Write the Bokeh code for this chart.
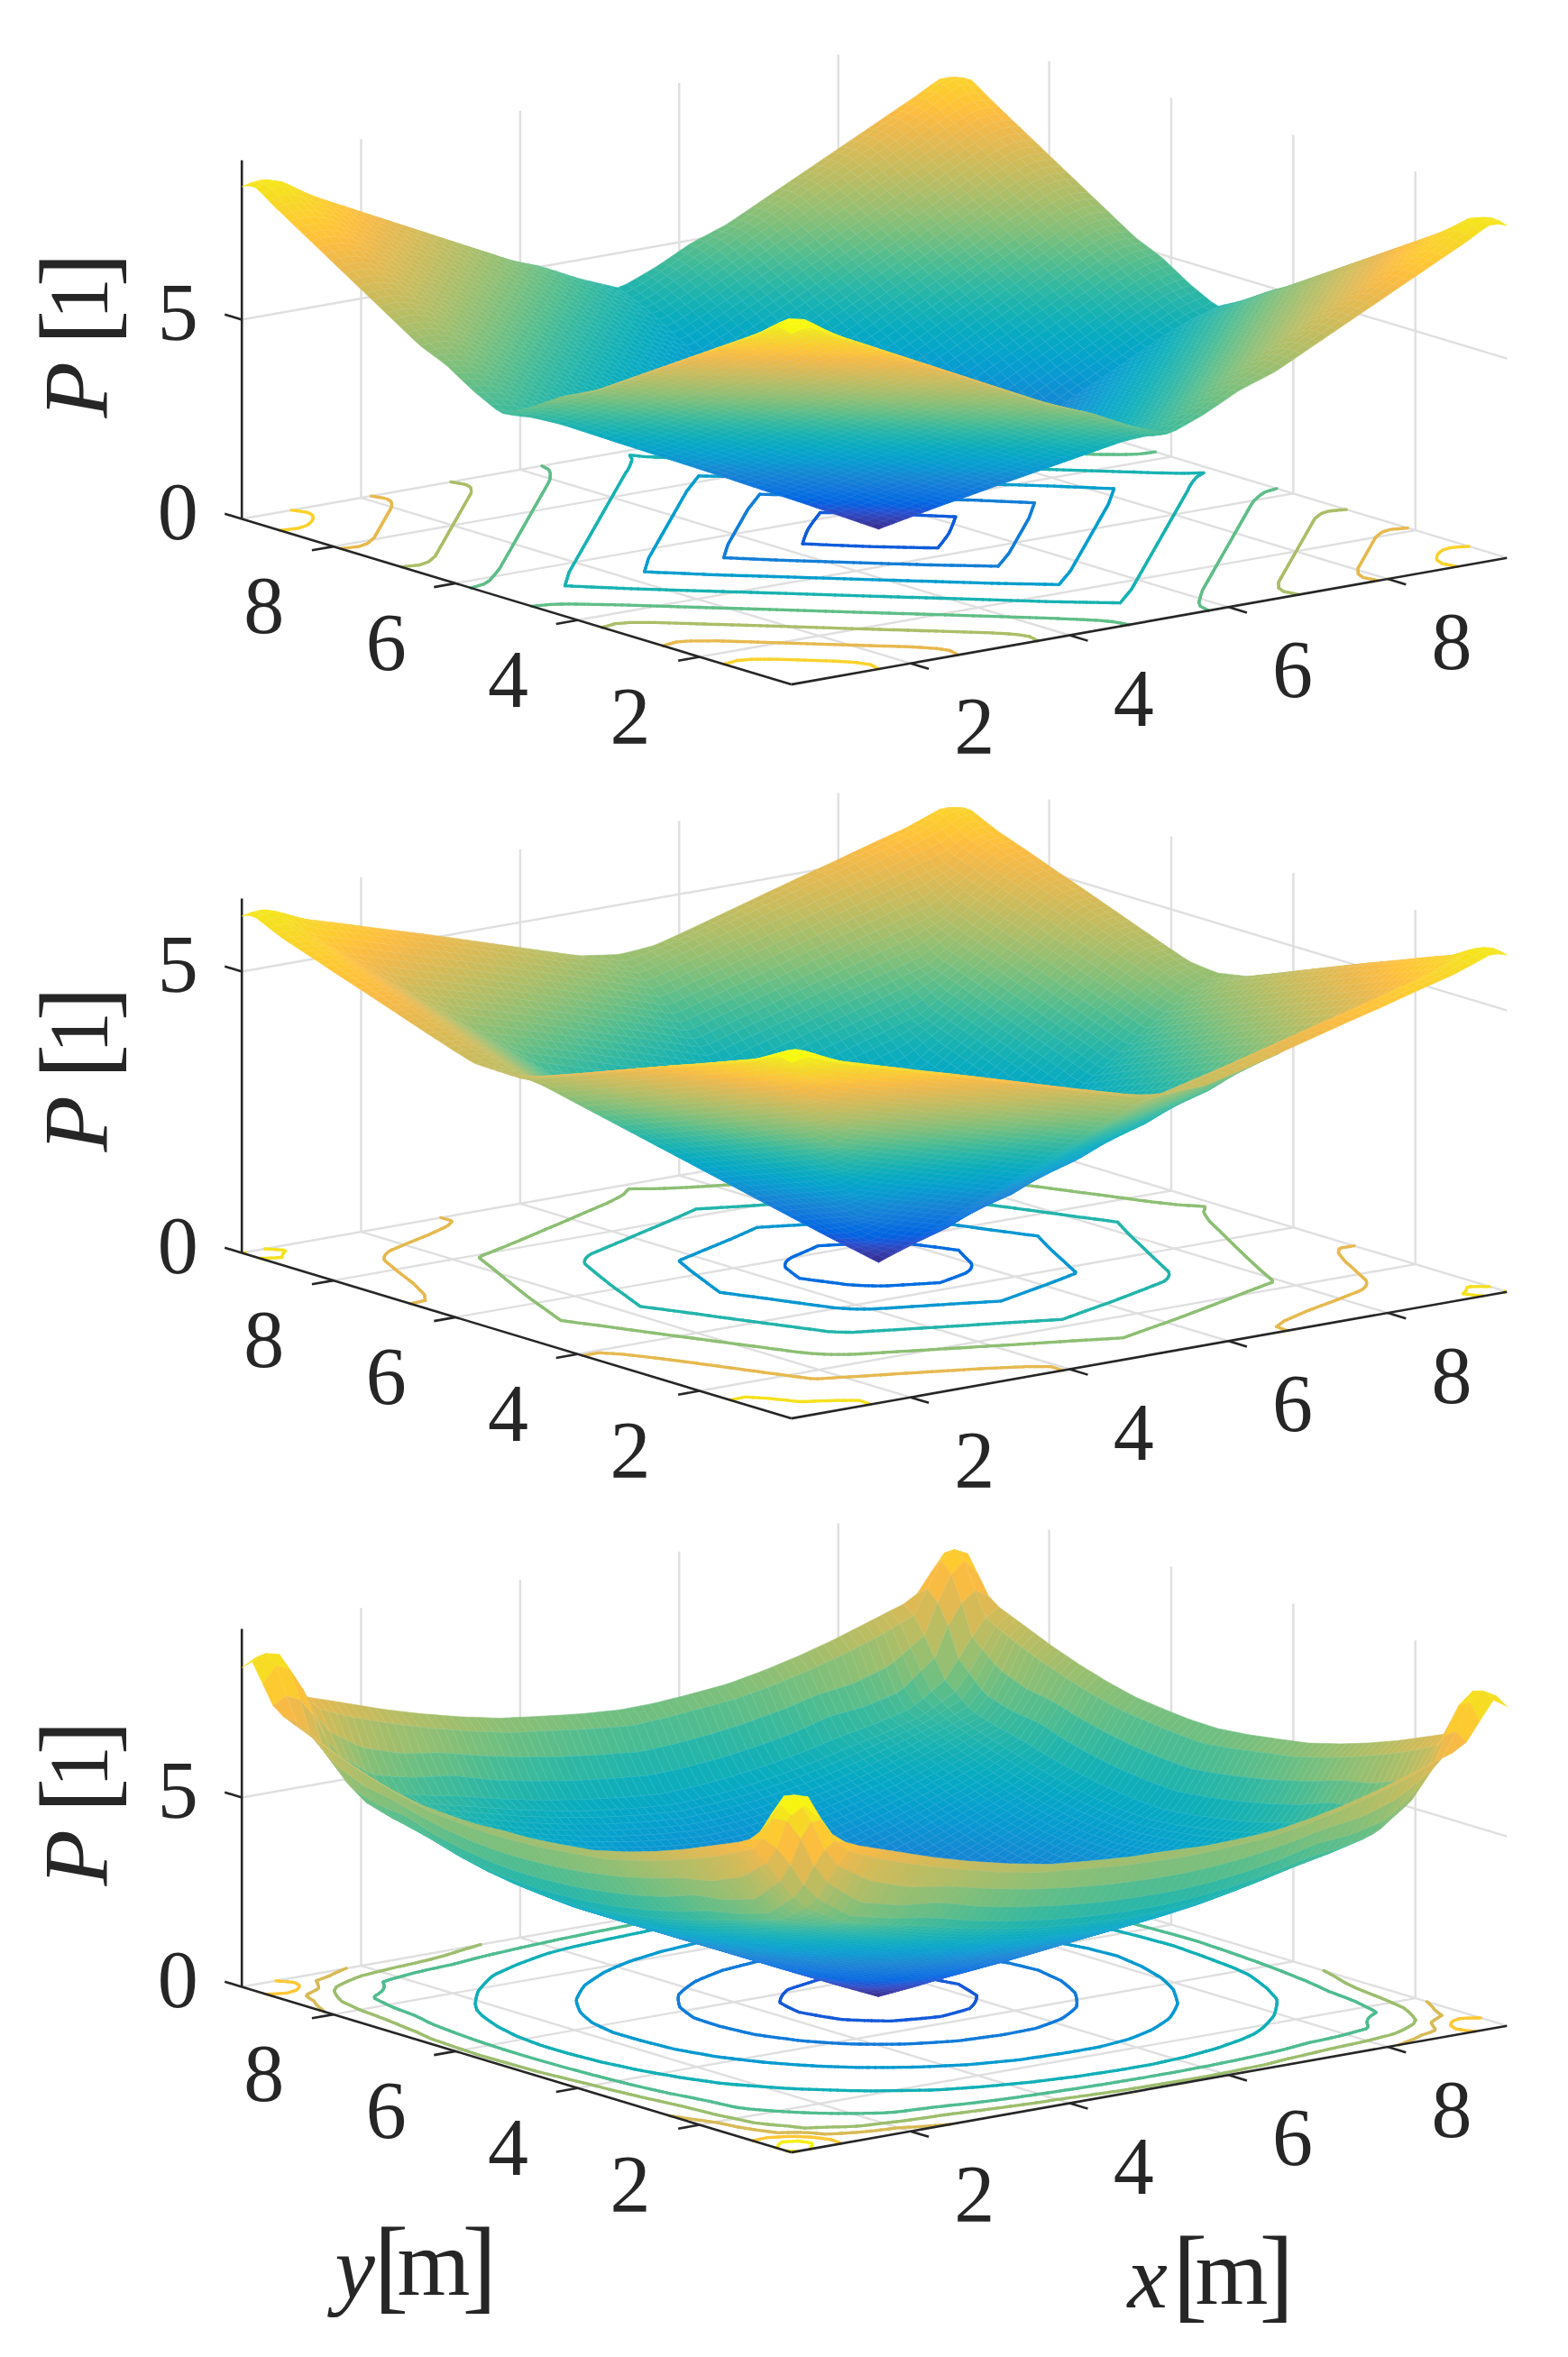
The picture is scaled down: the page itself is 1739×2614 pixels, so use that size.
import numpy as np
from bokeh.plotting import figure
from bokeh.models import Range1d
from bokeh.core.properties import value
from bokeh.embed import file_html
from bokeh.resources import INLINE

# distance-from-minimum nodes of the height tables [m]
NODES = [0, .5, 1, 1.5, 2, 2.5, 3, 3.5, 4, 4.2, 4.4, 4.55, 4.75]
CENTER = 5.25
XMIN, XMAX = 0.5, 9.5
X_TICKS = [2, 4, 6, 8]
Y_TICKS = [2, 4, 6, 8]
Z_TICKS = [0, 5]

# upper triangles (|dy| >= |dx|) of P, one row per |dx| node
P_TOP = [
 [0,.52,1.04,1.54,2.05,2.55,3.05,3.55,4.05,4.22,4.38,4.46,4.6],
 [1,1.5,2,2.5,3,3.5,4,4.5,4.68,4.86,4.95,5.0],
 [2,2.5,3,3.5,4,4.5,5,5.18,5.35,5.45,5.5],
 [3,3.5,4,4.5,5,5.5,5.7,5.85,5.9,5.85],
 [4,4.5,5,5.5,6,6.2,6.35,6.4,6.35],
 [5,5.5,6,6.5,6.7,6.85,6.9,6.85],
 [6,6.5,7,7.2,7.35,7.4,7.35],
 [7,7.5,7.7,7.85,7.9,7.85],
 [8,8.2,8.35,8.4,8.35],
 [8.4,8.58,8.66,8.55],
 [8.82,8.95,8.78],
 [9.0,8.92],
 [8.8],
]
P_MID = [
 [0,.5,1,1.5,2,2.5,3,3.5,4,4.2,4.37,4.45,4.6],
 [.71,1.21,1.71,2.21,2.71,3.21,3.71,4.21,4.41,4.58,4.66,4.66],
 [1.41,1.91,2.41,2.91,3.41,3.91,4.41,4.61,4.78,4.86,4.86],
 [2.12,2.62,3.12,3.62,4.12,4.62,4.82,4.99,5.07,5.07],
 [2.83,3.33,3.83,4.33,4.83,5.03,5.2,5.28,5.28],
 [3.54,4.04,4.54,5.04,5.24,5.41,5.49,5.49],
 [4.24,4.74,5.24,5.44,5.61,5.69,5.69],
 [4.95,5.45,5.65,5.82,5.9,5.9],
 [5.66,5.86,6.03,6.11,6.1],
 [5.94,6.14,6.25,6.2],
 [6.27,6.39,6.31],
 [6.45,6.39],
 [6.32],
]
P_LOW = [
 [0,.5,1,1.5,2,2.5,3,3.5,4.1,4.6,5.25,5.8,6.2],
 [.71,1.12,1.58,2.06,2.55,3.04,3.54,4.15,4.65,5.3,5.85,6.22],
 [1.41,1.8,2.24,2.69,3.16,3.64,4.25,4.75,5.4,5.95,6.3],
 [2.12,2.5,2.92,3.35,3.81,4.4,4.9,5.55,6.05,6.4],
 [2.83,3.2,3.61,4.03,4.6,5.1,5.75,6.25,6.6],
 [3.54,3.9,4.3,4.85,5.4,6.0,6.5,6.85],
 [4.24,4.61,5.05,5.5,6.15,6.8,7.15],
 [4.95,5.3,5.75,6.5,7.15,7.5],
 [6.0,6.6,7.2,7.6,7.85],
 [7.6,8.2,8.4,8.1],
 [9.0,9.25,8.7],
 [9.35,9.15],
 [8.9],
]

PARULA = [(0.2081,0.1663,0.5292),(0.2123,0.2138,0.6270),(0.1959,0.2645,0.7279),(0.1253,0.3242,0.8303),
 (0.0117,0.3875,0.8820),(0.0165,0.4266,0.8786),(0.0498,0.4586,0.8641),(0.0723,0.4887,0.8467),
 (0.0793,0.5200,0.8312),(0.0641,0.5570,0.8240),(0.0343,0.5966,0.8199),(0.0239,0.6287,0.8038),
 (0.0228,0.6535,0.7768),(0.0384,0.6743,0.7436),(0.0843,0.6928,0.7062),(0.1453,0.7098,0.6646),
 (0.2178,0.7250,0.6193),(0.3022,0.7376,0.5712),(0.3953,0.7459,0.5244),(0.4871,0.7491,0.4840),
 (0.5709,0.7485,0.4494),(0.6473,0.7456,0.4188),(0.7184,0.7411,0.3905),(0.7858,0.7356,0.3633),
 (0.8507,0.7299,0.3360),(0.9139,0.7258,0.3063),(0.9739,0.7314,0.2666),(0.9990,0.7653,0.2164),
 (0.9880,0.8066,0.1794),(0.9697,0.8481,0.1475),(0.9589,0.8949,0.1132),(0.9661,0.9514,0.0755),(0.9763,0.9831,0.0538)]
PAR = np.array(PARULA)

PANELS = [
 dict(rows=P_TOP, levels=[1,2,3,4,5,6,7,8],   zmax=9.0,  ztop=9.0,  scale=44.2, dy=0,    band=False),
 dict(rows=P_MID, levels=[1,2,3,4,5,6],       zmax=6.45, ztop=6.3,  scale=62.4, dy=814,  band=False),
 dict(rows=P_LOW, levels=[1,2,3,4,5,6,7,8,9], zmax=9.35, ztop=9.45, scale=42.0, dy=1628, band=True),
]

FONT = value("Liberation Serif")
INK = "#262626"
GRID = "#dfdfdf"

def colour(t):
    t = np.clip(t, 0, 1) * (len(PAR) - 1)
    i = np.minimum(t.astype(int), len(PAR) - 2)
    f = (t - i)[..., None]
    rgb = PAR[i] * (1 - f) + PAR[i + 1] * f
    return (rgb * 255).round().astype(int)

def hexes(rgb):
    return ["#%02x%02x%02x" % tuple(c) for c in rgb.reshape(-1, 3)]

def full_table(rows):
    n = len(NODES)
    T = np.zeros((n, n))
    for i, r in enumerate(rows):
        for k, v in enumerate(r):
            T[i, i + k] = v
            T[i + k, i] = v
    return T

def height(T, x, y):
    nd = np.array(NODES)
    dx, dy = np.abs(x - CENTER), np.abs(y - CENTER)
    sx = np.where(x < CENTER, CENTER - XMIN, XMAX - CENTER)
    sy = np.where(y < CENTER, CENTER - XMIN, XMAX - CENTER)
    u = np.clip(dx / sx * nd[-1], 0, nd[-1])
    v = np.clip(dy / sy * nd[-1], 0, nd[-1])
    iu = np.clip(np.searchsorted(nd, u, side="right") - 1, 0, len(nd) - 2)
    iv = np.clip(np.searchsorted(nd, v, side="right") - 1, 0, len(nd) - 2)
    fu = (u - nd[iu]) / (nd[iu + 1] - nd[iu])
    fv = (v - nd[iv]) / (nd[iv + 1] - nd[iv])
    z = (T[iu, iv] * (1 - fu) * (1 - fv) + T[iu + 1, iv] * fu * (1 - fv)
         + T[iu, iv + 1] * (1 - fu) * fv + T[iu + 1, iv + 1] * fu * fv)
    w = u + v
    s = np.where(w > 0, (u * sx + v * sy) / np.where(w > 0, w, 1) / nd[-1], 1.0)
    return z * s

def project(x, y, z, pn):
    x, y, z = np.asarray(x, float), np.asarray(y, float), np.asarray(z, float)
    a, b = x - XMIN, y - XMIN
    return (877 + 88.2 * a - 67.7 * b,
            758.6 + pn["dy"] - 15.6 * a - 20.4 * b - pn["scale"] * z)

def contour_segments(xs, ys, Z, lev):
    out = []
    nx, ny = Z.shape
    for i in range(nx - 1):
        for j in range(ny - 1):
            c = [(xs[i], ys[j], Z[i, j]), (xs[i + 1], ys[j], Z[i + 1, j]),
                 (xs[i + 1], ys[j + 1], Z[i + 1, j + 1]), (xs[i], ys[j + 1], Z[i, j + 1])]
            pts = []
            for k in range(4):
                p0, p1 = c[k], c[(k + 1) % 4]
                if (p0[2] < lev) != (p1[2] < lev):
                    f = (lev - p0[2]) / (p1[2] - p0[2])
                    pts.append((p0[0] + f * (p1[0] - p0[0]), p0[1] + f * (p1[1] - p0[1])))
            if len(pts) == 2:
                out.append(pts)
            elif len(pts) == 4:
                out.append(pts[:2]); out.append(pts[2:])
    return out

p = figure(width=1723, height=2598, x_range=Range1d(0, 1723), y_range=Range1d(2598, 0),
           output_backend="svg", toolbar_location=None, min_border=0)
p.axis.visible = False
p.grid.visible = False
p.outline_line_color = None
p.background_fill_color = "white"

def label(x, y, s, size, rot=False, italic=False):
    p.text([x], [y], text=[s], text_font=FONT, text_font_style="italic" if italic else "normal",
           text_font_size=f"{size}px", text_color=INK, angle=np.pi / 2 if rot else 0,
           text_align="left", text_baseline="alphabetic")

for pn in PANELS:
    T = full_table(pn["rows"])
    # grid
    gx, gy = [], []
    def seg(a, b):
        q0 = project(*a, pn); q1 = project(*b, pn)
        gx.append([float(q0[0]), float(q1[0])]); gy.append([float(q0[1]), float(q1[1])])
    for t in X_TICKS:
        seg((t, XMIN, 0), (t, XMAX, 0))
        seg((t, XMAX, 0), (t, XMAX, pn["ztop"]))
    for t in Y_TICKS:
        seg((XMIN, t, 0), (XMAX, t, 0))
        seg((XMAX, t, 0), (XMAX, t, pn["ztop"]))
    seg((XMIN, XMAX, 0), (XMAX, XMAX, 0))
    seg((XMAX, XMIN, 0), (XMAX, XMAX, 0))
    for t in Z_TICKS[1:]:
        seg((XMIN, XMAX, t), (XMAX, XMAX, t))
        seg((XMAX, XMIN, t), (XMAX, XMAX, t))
    p.multi_line(gx, gy, line_color=GRID, line_width=2.4)

    # floor contours
    cxs = np.linspace(XMIN, XMAX, 181)
    X, Y = np.meshgrid(cxs, cxs, indexing="ij")
    Zc = height(T, X, Y)
    for lev in pn["levels"]:
        segs = contour_segments(cxs, cxs, Zc, lev)
        lx, ly = [], []
        for s in segs:
            q = project([s[0][0], s[1][0]], [s[0][1], s[1][1]], [0, 0], pn)
            lx.append(q[0].round(1).tolist()); ly.append(q[1].round(1).tolist())
        c = hexes(colour(np.array([lev / pn["zmax"]])))[0]
        p.multi_line(lx, ly, line_color=c, line_width=3.3, line_cap="round")

    # axes
    ax, ay = [], []
    def aseg(a, b):
        q0 = project(*a, pn); q1 = project(*b, pn)
        ax.append([float(q0[0]), float(q1[0])]); ay.append([float(q0[1]), float(q1[1])])
    aseg((XMIN, XMIN, 0), (XMAX, XMIN, 0))
    aseg((XMIN, XMIN, 0), (XMIN, XMAX, 0))
    aseg((XMIN, XMAX, 0), (XMIN, XMAX, pn["ztop"]))
    for t in X_TICKS:
        aseg((t, XMIN, 0), (t, XMIN - .3, 0))
    for t in Y_TICKS:
        aseg((XMIN, t, 0), (XMIN - .27, t, 0))
    for t in Z_TICKS:
        aseg((XMIN, XMAX, t), (XMIN, XMAX + .28, t))
    p.multi_line(ax, ay, line_color=INK, line_width=2.6)

    # surface (mesh of flat cells; the low panel's cells are wide next to the rim)
    if pn["band"]:
        rim = np.arange(0, 6) * .17
        inner = np.linspace(XMIN + rim[-1], XMAX - rim[-1], 71)
        e = np.concatenate([XMIN + rim[:-1], inner, (XMAX - rim[:-1])[::-1]])
    else:
        e = np.linspace(XMIN, XMAX, 81)
    n = len(e) - 1
    XE, YE = np.meshgrid(e, e, indexing="ij")
    ZE = height(T, XE, YE)
    sx, sy = project(XE, YE, ZE, pn)
    zc = (ZE[:-1, :-1] + ZE[1:, :-1] + ZE[:-1, 1:] + ZE[1:, 1:]) / 4
    rgb = colour(zc / pn["zmax"])
    pale = (rgb * 0.9 + 255 * 0.1).round().astype(int)
    idx = [(i, j) for i in range(n) for j in range(n)]
    idx.sort(key=lambda q: -(67.7 * e[q[0]] + 88.2 * e[q[1]]))
    xs = [[round(float(sx[i, j]), 1), round(float(sx[i + 1, j]), 1), round(float(sx[i + 1, j + 1]), 1), round(float(sx[i, j + 1]), 1)] for i, j in idx]
    ys = [[round(float(sy[i, j]), 1), round(float(sy[i + 1, j]), 1), round(float(sy[i + 1, j + 1]), 1), round(float(sy[i, j + 1]), 1)] for i, j in idx]
    cols = ["#%02x%02x%02x" % tuple(rgb[i, j]) for i, j in idx]
    edge = ["#%02x%02x%02x" % tuple(pale[i, j]) for i, j in idx]
    p.patches(xs, ys, fill_color=cols, line_color=edge, line_width=0.6)

    # tick labels
    qx = project(X_TICKS, [XMIN] * 4, [0] * 4, pn)
    qy = project([XMIN] * 4, Y_TICKS, [0] * 4, pn)
    qz = project([XMIN] * 2, [XMAX] * 2, Z_TICKS, pn)
    p.text((qx[0] + 71).tolist(), (qx[1] + 70).tolist(), text=[str(t) for t in X_TICKS], text_font=FONT,
           text_font_size="90px", text_color=INK, text_align="center", text_baseline="middle")
    p.text((qy[0] - 77).tolist(), (qy[1] + 66).tolist(), text=[str(t) for t in Y_TICKS], text_font=FONT,
           text_font_size="90px", text_color=INK, text_align="center", text_baseline="middle")
    p.text((qz[0] - 71).tolist(), (qz[1] - 8).tolist(), text=[str(t) for t in Z_TICKS], text_font=FONT,
           text_font_size="90px", text_color=INK, text_align="center", text_baseline="middle")
    # z label
    label(84, 463 + pn["dy"], "P", 102, rot=True, italic=True)
    label(84, 382 + pn["dy"], "[", 116, rot=True)
    label(88, 354 + pn["dy"], "1", 93, rot=True)
    label(84, 318 + pn["dy"], "]", 116, rot=True)

label(371, 2515, "y", 100, italic=True)
label(414, 2510, "[", 116)
label(440, 2509, "m", 104)
label(512, 2510, "]", 116)
label(1250, 2525, "x", 100, italic=True)
label(1300, 2520, "[", 116)
label(1325, 2519, "m", 104)
label(1396, 2520, "]", 116)

open("out.html", "w").write(file_html(p, INLINE))
